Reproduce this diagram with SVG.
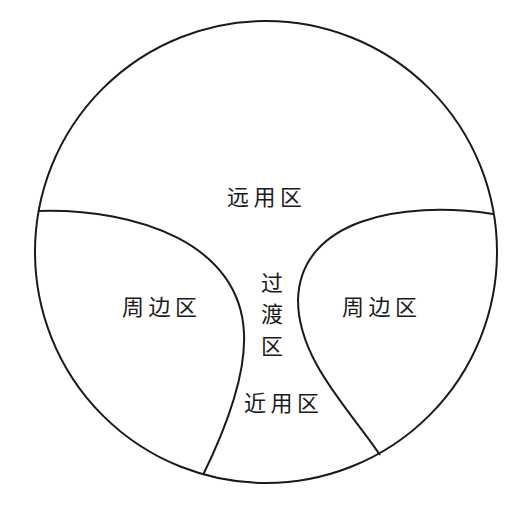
<svg xmlns="http://www.w3.org/2000/svg" width="523" height="505" viewBox="0 0 523 505">
<style>
.ln{fill:none;stroke:#1a1a1a;stroke-width:2}
.t{font-family:"Noto Sans CJK SC","Noto Sans",sans-serif;font-size:22px;fill:#1a1a1a;letter-spacing:4.5px}
</style>
<rect width="523" height="505" fill="#fff"/>
<g id="connectors">
<circle class="ln" cx="266" cy="252" r="231"/>
<path class="ln" d="M38,211 C140,208 240,245 244,333 C246,375 225,430 203,475"/>
<path class="ln" d="M493,214 C400,200 300,220 298,300 C298,360 350,410 380,455"/>
</g>
<g id="far"><text class="t" x="227" y="205">远用区</text></g>
<g id="left"><text class="t" x="122" y="315">周边区</text></g>
<g id="right"><text class="t" x="342" y="315">周边区</text></g>
<g id="trans">
<text class="t" x="261" y="291">过</text>
<text class="t" x="261" y="322">渡</text>
<text class="t" x="261" y="354">区</text>
</g>
<g id="near"><text class="t" x="244" y="411">近用区</text></g>
</svg>
